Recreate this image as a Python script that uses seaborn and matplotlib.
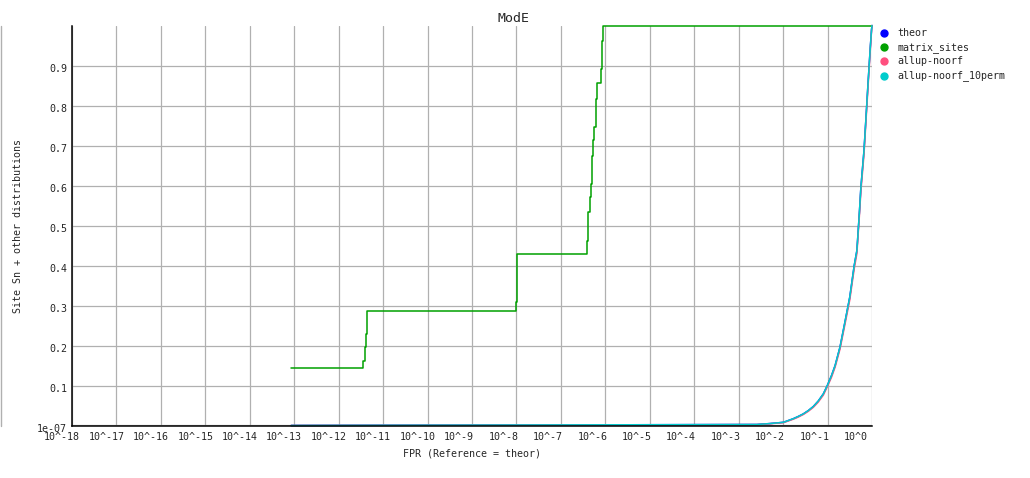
import numpy as np
import pandas as pd
import matplotlib
matplotlib.use("Agg")
import matplotlib.pyplot as plt
import matplotlib.transforms as mtransforms
from matplotlib.lines import Line2D
from matplotlib.ticker import FixedLocator, NullLocator
import seaborn as sns

# matrix_sites: exponent of FPR and sensitivity
matrix_exp = [-13.07, -11.445, -11.407, -11.385, -11.37, -11.355, -8.02, -7.99,
              -6.405, -6.382, -6.35, -6.32, -6.31, -6.28, -6.255, -6.22, -6.19,
              -6.105, -6.08, -6.045, 0.0]
matrix_sn = [0.143, 0.1625, 0.196, 0.23, 0.2625, 0.286, 0.31, 0.429,
             0.4625, 0.533, 0.571, 0.604, 0.675, 0.714, 0.746, 0.817, 0.857,
             0.892, 0.9625, 1.0, 1.0]

# theor / allup-noorf / allup-noorf_10perm
curve_exp = [-13.07, -2.59, -2.28, -1.99, -1.88, -1.77, -1.66, -1.545, -1.43, -1.32,
             -1.21, -1.095, -1.005, -0.91, -0.83, -0.72, -0.61, -0.5, -0.4, -0.34,
             -0.285, -0.25, -0.18, -0.135, -0.09, -0.04, -0.01, 0.0]
theor_sn = [0.0, 0.0025, 0.005, 0.008, 0.0125, 0.017, 0.0225, 0.029, 0.0375, 0.0475,
            0.061, 0.079, 0.1, 0.125, 0.15, 0.196, 0.258, 0.321, 0.4, 0.4375,
            0.53, 0.595, 0.6875, 0.77, 0.854, 0.9425, 0.99, 1.0]
noorf_sn = [0.0, 0.0022, 0.0045, 0.0072, 0.0115, 0.0158, 0.021, 0.0275, 0.0358, 0.0455,
            0.0585, 0.076, 0.097, 0.121, 0.146, 0.191, 0.252, 0.314, 0.392, 0.43,
            0.522, 0.585, 0.678, 0.762, 0.845, 0.935, 0.987, 1.0]
perm_sn = [0.0, 0.0025, 0.005, 0.008, 0.0125, 0.017, 0.0225, 0.029, 0.0375, 0.0475,
           0.061, 0.079, 0.1, 0.125, 0.15, 0.196, 0.258, 0.321, 0.4, 0.4375,
           0.53, 0.595, 0.6875, 0.77, 0.854, 0.9425, 0.99, 1.0]

x_decades = list(range(-18, 1))
x_labels = [f"10^{d}" for d in x_decades]
y_ticks = [1e-07, 0.1, 0.2, 0.3, 0.4, 0.5, 0.6, 0.7, 0.8, 0.9]
y_labels = ["1e-07", "0.1", "0.2", "0.3", "0.4", "0.5", "0.6", "0.7", "0.8", "0.9"]

series = [("theor", "#0000ff"), ("matrix_sites", "#00a000"),
          ("allup-noorf", "#ff4f7f"), ("allup-noorf_10perm", "#00cccc")]

sns.set_style("white")
plt.rcParams["font.family"] = ["DejaVu Sans Mono"]
FS = 7.2

W, H = 1030, 478
fig = plt.figure(figsize=(W / 100, H / 100), dpi=100)
ax = fig.add_axes([72 / W, 1 - 425.5 / H, 800 / W, 400 / H])

df_m = pd.DataFrame({"fpr": 10.0 ** np.array(matrix_exp), "sn": matrix_sn})
df_c = pd.DataFrame({"fpr": 10.0 ** np.array(curve_exp), "theor": theor_sn,
                     "noorf": noorf_sn, "perm": perm_sn})

common = dict(ax=ax, estimator=None, sort=False, linewidth=1.1, clip_on=False)
sns.lineplot(data=df_c, x="fpr", y="theor", color="#0000ff", **common)
sns.lineplot(data=df_m, x="fpr", y="sn", color="#00a000", drawstyle="steps-post", **common)
sns.lineplot(data=df_c, x="fpr", y="noorf", color="#ff4f7f", **common)
sns.lineplot(data=df_c, x="fpr", y="perm", color="#00cccc", **common)

ax.set_xscale("log")
ax.set_xlim(1e-18, 1.0)
ax.set_ylim(0, 1.0)
ax.xaxis.set_major_locator(FixedLocator([10.0 ** d for d in x_decades]))
ax.xaxis.set_minor_locator(NullLocator())
ax.set_xticklabels(x_labels, fontsize=FS, ha="left")
ax.set_yticks(y_ticks)
ax.set_yticklabels(y_labels, fontsize=FS)
ax.tick_params(axis="x", length=0, pad=5)
ax.tick_params(axis="y", length=0, pad=3.6)

# shift tick labels like the original renderer does
xoff = mtransforms.ScaledTranslation(-28 / 100, 0, fig.dpi_scale_trans)
for lab in ax.get_xticklabels():
    lab.set_transform(lab.get_transform() + xoff)
yoff = mtransforms.ScaledTranslation(0, -3 / 100, fig.dpi_scale_trans)
for lab in ax.get_yticklabels():
    lab.set_transform(lab.get_transform() + yoff)

ax.grid(True, color="#b0b0b0", linewidth=0.9)
ax.set_axisbelow(True)
for side in ["top", "right"]:
    ax.spines[side].set_visible(False)
for side in ["left", "bottom"]:
    ax.spines[side].set_color("black")
    ax.spines[side].set_linewidth(1.1)

ax.set_xlabel("")
ax.set_ylabel("")
fig.text(472 / W, 1 - 453 / H, "FPR (Reference = theor)", ha="center", va="center", fontsize=FS)
fig.text(18 / W, 1 - 226 / H, "Site Sn + other distributions", ha="center", va="center",
         rotation=90, fontsize=FS)
fig.text(514 / W, 1 - 18 / H, "ModE", ha="center", va="center", fontsize=9.5)

# stray grey line at the left edge
fig.add_artist(Line2D([0.7 / W, 0.7 / W], [1 - 426 / H, 1 - 26 / H], color="#b0b0b0", linewidth=1.0))

# legend
for i, (name, col) in enumerate(series):
    yy = 1 - (33 + i * 14.2) / H
    fig.add_artist(Line2D([884 / W], [yy], marker="o", markersize=5, color=col, linestyle="none"))
    fig.text(897 / W, yy, name, ha="left", va="center", fontsize=FS)

fig.savefig("out.png", dpi=100)
